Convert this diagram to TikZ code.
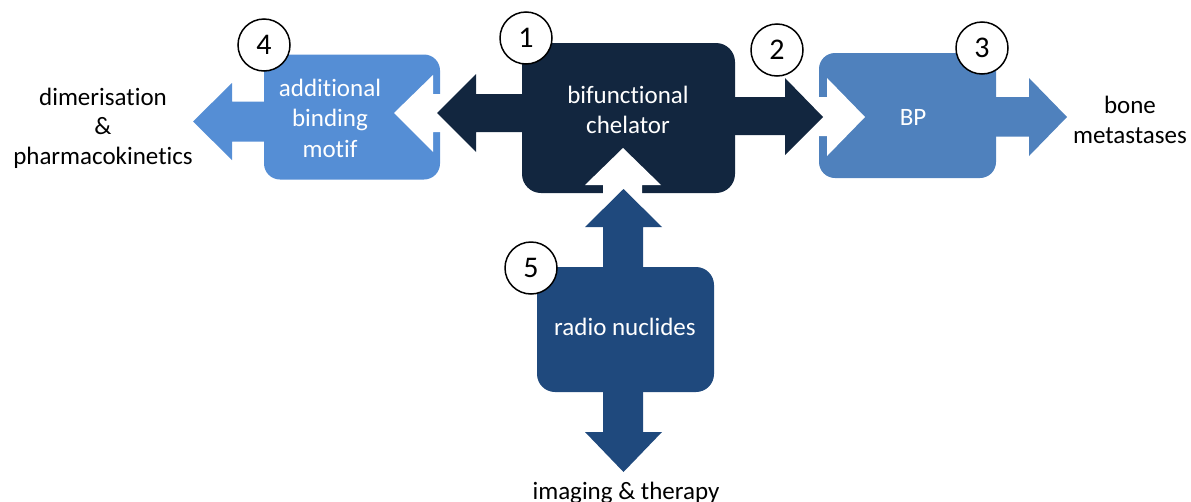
\documentclass[tikz,border=0pt]{standalone}
\usepackage{fontspec}
\setmainfont[Ligatures=NoCommon]{Carlito}
\definecolor{motif}{HTML}{558ED5}
\definecolor{bpblue}{HTML}{4F81BD}
\definecolor{chel}{HTML}{12263F}
\definecolor{radio}{HTML}{1F497D}
\begin{document}
\begin{tikzpicture}[x=1pt,y=-1pt,
  box/.style={rounded corners=16pt, inner sep=0pt, minimum width=177pt, minimum height=125pt},
  intext/.style={text=white, align=center, inner sep=0pt, font=\fontsize{25}{30.5}\selectfont},
  outtext/.style={text=black, align=center, inner sep=0pt, font=\fontsize{25}{29.5}\selectfont},
  numc/.style={circle, draw=black, line width=1.5pt, fill=white, minimum size=52pt, inner sep=0pt, font=\fontsize{30}{30}\selectfont}]
\useasboundingbox (0,0) rectangle (1191,501);
\clip (0,0) rectangle (1191,501);
% boxes at the sides
\node[box, fill=motif, minimum width=176pt] (motif) at (352,117) {};
\fill[motif] (270,101.5) -- (232,101.5) -- (232,83) -- (193,121.5) -- (232,160) -- (232,141.5) -- (270,141.5) -- cycle;
\node[box, fill=bpblue] (bp) at (907.5,115.5) {};
\fill[bpblue] (990,97) -- (1029,97) -- (1029,78) -- (1067,117) -- (1029,156) -- (1029,136.5) -- (990,136.5) -- cycle;
% white notches
\fill[white] (450,94) -- (433,94) -- (433,75) -- (394,113) -- (433,152) -- (433,132) -- (450,132) -- cycle;
\fill[white] (810,97) -- (827,97) -- (827,78) -- (865,117) -- (827,156) -- (827,136) -- (810,136) -- cycle;
% chelator
\node[box, fill=chel, rounded corners=19pt, minimum width=213pt, minimum height=150pt] (chel) at (628.5,118) {};
\fill[chel] (530,94) -- (476,94) -- (476,74) -- (437,113) -- (476,152) -- (476,132) -- (530,132) -- cycle;
\fill[chel] (728,97) -- (785,97) -- (785,78) -- (823,117) -- (785,155) -- (785,135) -- (728,135) -- cycle;
\fill[white] (603,200) -- (603,185) -- (585,185) -- (623,148) -- (661,185) -- (642,185) -- (642,200) -- cycle;
% radio nuclides
\node[box, fill=radio, rounded corners=18pt] (radio) at (625.5,329.5) {};
\fill[radio] (603,275) -- (603,227) -- (585,227) -- (623.5,189) -- (662,227) -- (643,227) -- (643,275) -- cycle;
\fill[radio] (603,385) -- (603,432) -- (585,432) -- (623.5,472) -- (662,432) -- (643,432) -- (643,385) -- cycle;
% texts in boxes
\node[intext] (motiftxt) at (330,118) {additional\\binding\\motif};
\node[intext] (cheltxt) at (628,110) {bifunctional\\chelator};
\node[intext] (bptxt) at (913,117) {BP};
\node[intext] (radiotxt) at (625,327) {radio nuclides};
% outer labels
\node[outtext] (dimer) at (103,128) {dimerisation\\\&\\pharmacokinetics};
\node[outtext] (bone) at (1130,120) {bone\\metastases};
\node[outtext, anchor=base] (imaging) at (626,499) {imaging \& therapy};
% numbers
\node[numc] (n1) at (526,38) {1};
\node[numc] (n2) at (777,50) {2};
\node[numc] (n3) at (982,48) {3};
\node[numc] (n4) at (264,45) {4};
\node[numc] (n5) at (531,268) {5};
\end{tikzpicture}
\end{document}
